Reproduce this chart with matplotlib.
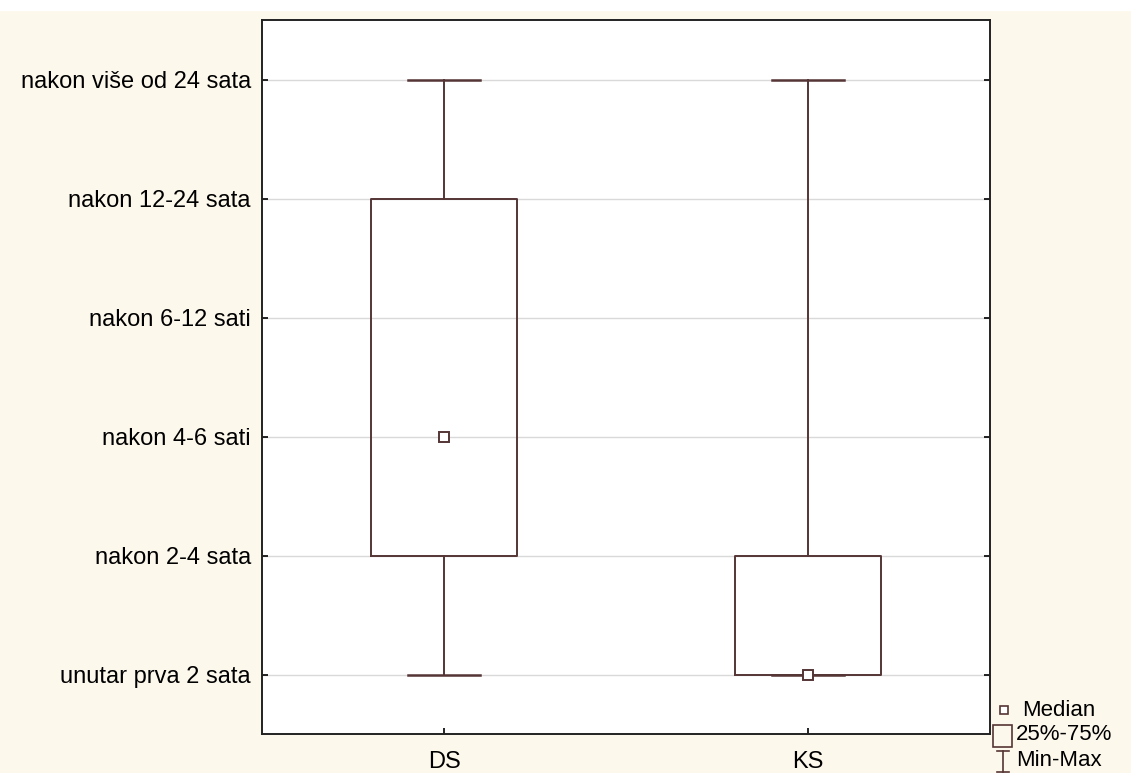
import matplotlib.pyplot as plt
from matplotlib.patches import Rectangle

plt.rcParams['font.family'] = ['Liberation Sans', 'DejaVu Sans']

# data
groups = ["DS", "KS"]
y_labels = ["unutar prva 2 sata", "nakon 2-4 sata", "nakon 4-6 sati",
            "nakon 6-12 sati", "nakon 12-24 sata", "nakon više od 24 sata"]
mins = [1, 1]
q1s = [2, 1]
medians = [3, 1]
q3s = [5, 2]
maxs = [6, 6]

line_c = "#553535"
bg = "#fdf8ec"

fig = plt.figure(figsize=(11.31, 7.73), dpi=100, facecolor=bg)
fig.add_artist(Rectangle((0, 1 - 10 / 773), 1, 10 / 773, color="white",
                         transform=fig.transFigure, zorder=0))
ax = fig.add_axes([262 / 1131, 1 - 734 / 773, 728 / 1131, 714 / 773])
ax.set_facecolor("white")

positions = list(range(1, len(groups) + 1))
stats = []
for i, g in enumerate(groups):
    stats.append(dict(label=g, whislo=mins[i], q1=q1s[i], med=medians[i],
                      q3=q3s[i], whishi=maxs[i]))

ax.bxp(stats, positions=positions, widths=0.4, capwidths=0.2, showfliers=False,
       boxprops=dict(color=line_c, linewidth=1.4),
       whiskerprops=dict(color=line_c, linewidth=1.4),
       capprops=dict(color=line_c, linewidth=1.8),
       medianprops=dict(linestyle="none"), zorder=3)
ax.plot(positions, medians, "s", ms=7, mfc="white", mec=line_c, mew=1.4,
        linestyle="none", zorder=4)

ax.set_xlim(0.5, 2.5)
ax.set_ylim(0.5, 6.5)
ax.set_xticks(positions)
ax.set_xticklabels(groups)
ax.set_yticks(range(1, len(y_labels) + 1))
ax.set_yticklabels(y_labels)
ax.grid(axis="y", color="#d9d9d9", linewidth=1, zorder=0)
ax.set_axisbelow(True)
ax.tick_params(direction="in", length=4, width=1.2, labelsize=17,
               left=True, right=True, bottom=True, top=False, pad=8, colors="black")
ax.tick_params(axis="x", pad=12)
for s in ax.spines.values():
    s.set_linewidth(1.4)
    s.set_color("#222222")

# legend drawn outside the axes, bottom right
lax = fig.add_axes([985 / 1131, 0, 146 / 1131, 78 / 773])
lax.set_xlim(0, 146)
lax.set_ylim(78, 0)
lax.axis("off")
lax.plot([19], [15], "s", ms=6, mfc="white", mec=line_c, mew=1.2)
lax.add_patch(Rectangle((8, 30), 19, 22, fill=False, ec=line_c, lw=1.2))
lax.plot([18, 18], [56, 77], color=line_c, lw=1.2)
lax.plot([12, 24], [56, 56], color=line_c, lw=1.2)
lax.plot([12, 24], [77, 77], color=line_c, lw=1.2)
lax.text(37, 15, "Median", fontsize=16, va="center")
lax.text(31, 40, "25%-75%", fontsize=16, va="center")
lax.text(31, 65, "Min-Max", fontsize=16, va="center")

fig.savefig("out.png", dpi=100, facecolor=bg)
